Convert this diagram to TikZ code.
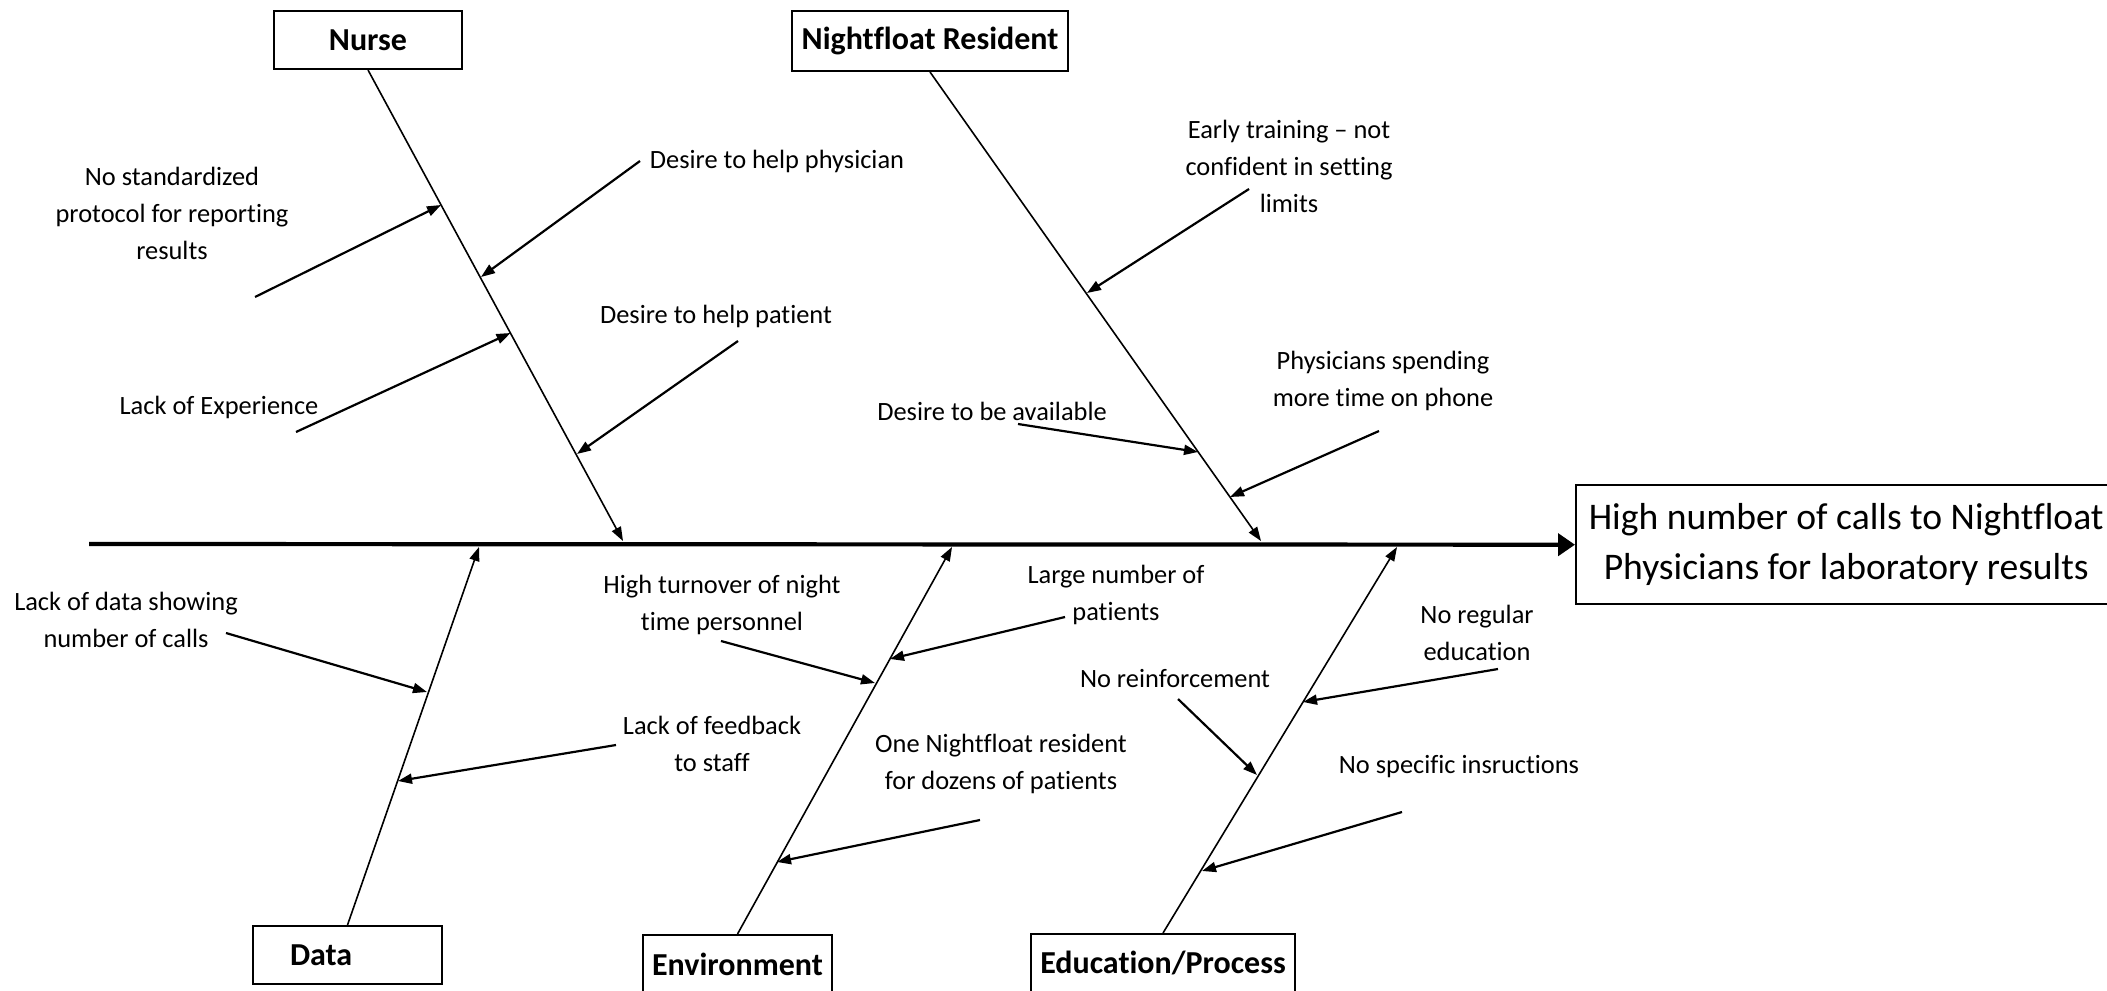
\documentclass[tikz,border=0pt]{standalone}
\usepackage{fontspec}
\setmainfont[Ligatures={TeX,NoCommon}]{Carlito}
\usetikzlibrary{arrows.meta}
\begin{document}
\begin{tikzpicture}[x=0.5pt,y=-0.5pt,
  lbl/.style={font=\fontsize{13.2}{18.5}\selectfont, align=center, inner sep=0pt},
  catbox/.style={draw, line width=1pt, font=\fontsize{16}{19}\selectfont\bfseries, inner sep=0pt, anchor=north west, minimum height=29pt},
  bone/.style={line width=0.8pt, -{Triangle[length=7pt,width=5pt]}},
  cause/.style={line width=1.1pt, -{Triangle[length=7pt,width=5pt]}},
]
\useasboundingbox (0,0) rectangle (2107,990);

% effect box
\node[draw, line width=1.2pt, anchor=north west, minimum width=270pt, minimum height=59.5pt,
      inner sep=0pt, align=center, font=\fontsize{18.8}{25}\selectfont] (effect) at (1575,484)
  {High number of calls to Nightfloat\\Physicians for laboratory results};

% category boxes
\node[catbox, minimum width=94pt] (nurse) at (273,10) {Nurse};
\node[catbox, minimum width=138pt, minimum height=30pt] (nfr) at (791,10) {Nightfloat Resident};
\node[catbox, minimum width=94.5pt, inner xsep=18.5pt, text width=57.5pt, align=left] (data) at (252,925) {Data};
\node[catbox, minimum width=94.5pt] (env) at (642,934) {Environment};
\node[catbox, minimum width=132pt] (edu) at (1030,933) {Education/Process};

% spine
\coordinate (spineL) at (89,544);
\draw[line width=2.1pt, -{Triangle[length=8.5pt,width=11pt]}] (spineL) -- (effect.west);

% bone ends
\coordinate (nurseE) at (623,541);
\coordinate (nfrE) at (1261,541);
\coordinate (dataE) at (479,547);
\coordinate (envE) at (952,547);
\coordinate (eduE) at (1397,547);
\draw[bone] (nurse.south) -- (nurseE);
\draw[bone] (nfr.south) -- (nfrE);
\draw[bone] (data.north) -- (dataE);
\draw[bone] (env.north) -- (envE);
\draw[bone] (edu.north) -- (eduE);

% labels
\node[lbl] (l1) at (172,213) {No standardized\\protocol for reporting\\results};
\node[lbl] (l2) at (777,161) {Desire to help physician};
\node[lbl] (l3) at (219,407) {Lack of Experience};
\node[lbl] (l4) at (716,316) {Desire to help patient};
\node[lbl] (l5) at (1289,166) {Early training -- not\\confident in setting\\limits};
\node[lbl] (l6) at (1383,381) {Physicians spending\\more time on phone};
\node[lbl] (l7) at (992,411) {Desire to be available};
\node[lbl] (l8) at (126,620) {Lack of data showing\\number of calls};
\node[lbl] (l9) at (712,744) {Lack of feedback\\to staff};
\node[lbl] (l10) at (722,605) {High turnover of night\\time personnel};
\node[lbl] (l11) at (1116,595) {Large number of\\patients};
\node[lbl] (l12) at (1001,764) {One Nightfloat resident\\for dozens of patients};
\node[lbl] (l13) at (1477,633) {No regular\\education};
\node[lbl] (l14) at (1175,679) {No reinforcement};
\node[lbl] (l15) at (1459,767) {No specific insructions};

% cause arrows: start and tip coordinates
\coordinate (s1) at (255,297);   \coordinate (t1) at (441,205);
\coordinate (s2) at (640,161);   \coordinate (t2) at (481,277);
\coordinate (s3) at (296,432);   \coordinate (t3) at (510.5,333);
\coordinate (s4) at (738,341);   \coordinate (t4) at (577,454);
\coordinate (s5) at (1249,189);  \coordinate (t5) at (1087,293);
\coordinate (s6) at (1379,431);  \coordinate (t6) at (1230,497);
\coordinate (s7) at (1018,424);  \coordinate (t7) at (1198,452);
\coordinate (s8) at (226,633);   \coordinate (t8) at (427,692);
\coordinate (s9) at (616,745);   \coordinate (t9) at (398,781);
\coordinate (s10) at (721,641);  \coordinate (t10) at (875,683);
\coordinate (s11) at (1065,617); \coordinate (t11) at (890,659);
\coordinate (s12) at (980,820);  \coordinate (t12) at (777,862);
\coordinate (s13) at (1498,669); \coordinate (t13) at (1303,702);
\coordinate (s14) at (1178,699); \coordinate (t14) at (1257,775);
\coordinate (s15) at (1402,812); \coordinate (t15) at (1202,871);
\foreach \i in {1,...,15} {\draw[cause] (s\i) -- (t\i);}
\end{tikzpicture}
\end{document}
